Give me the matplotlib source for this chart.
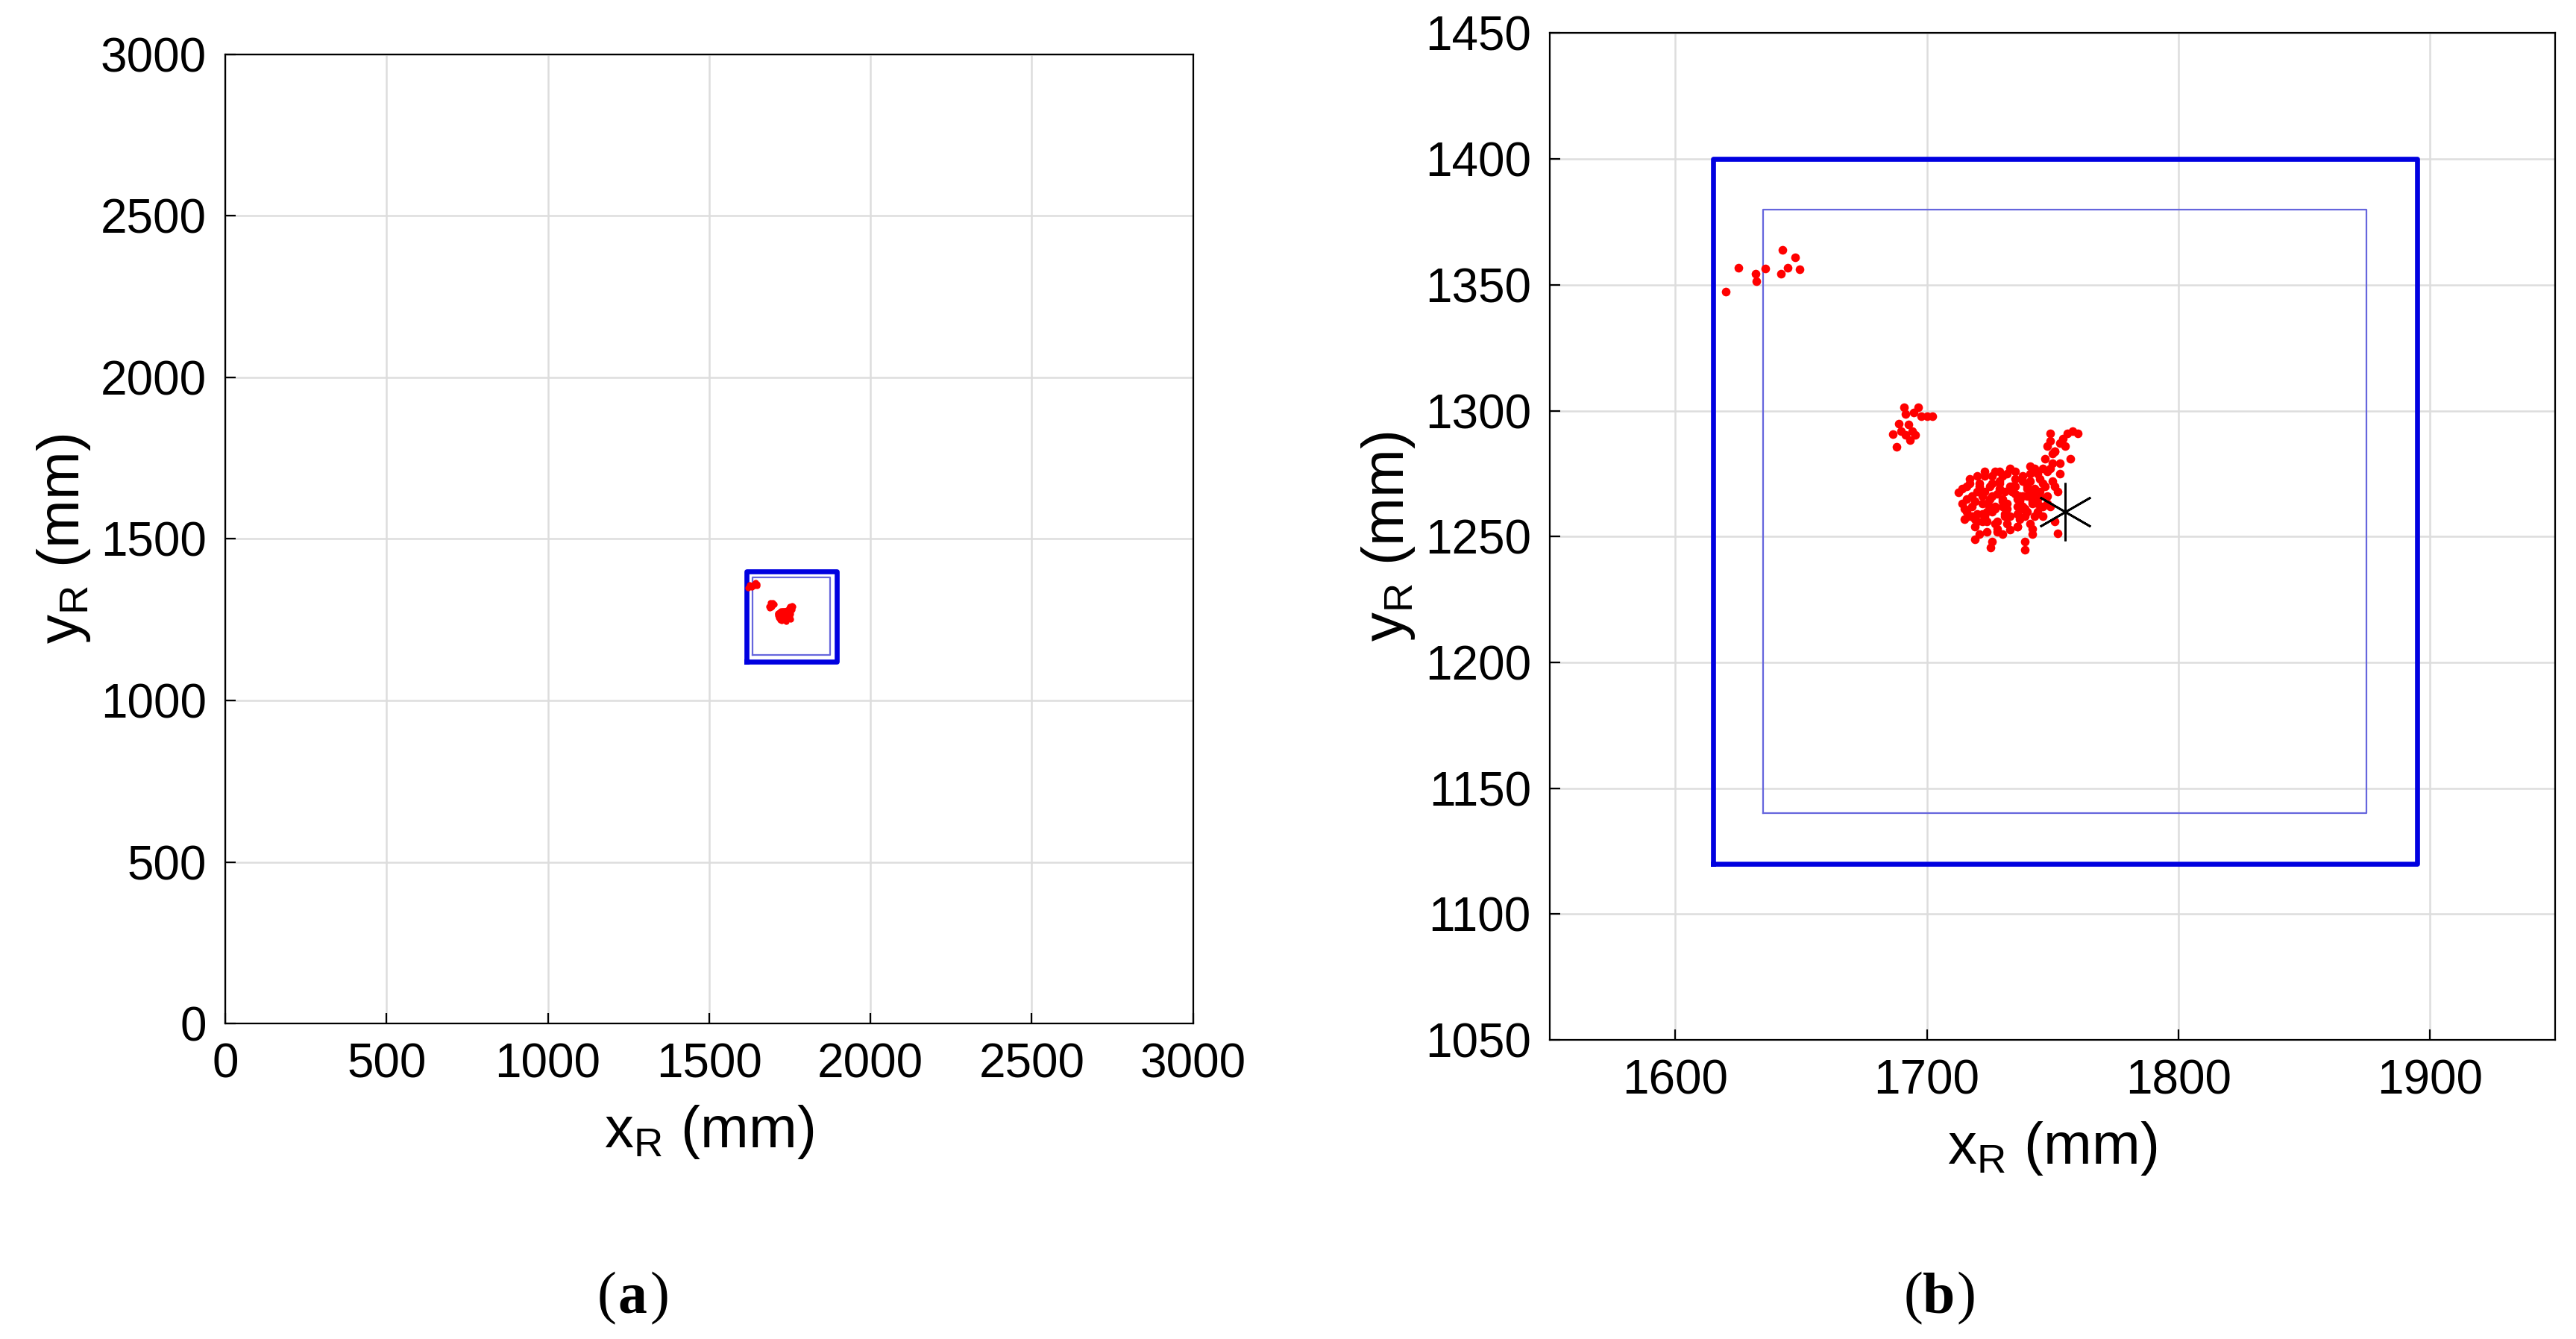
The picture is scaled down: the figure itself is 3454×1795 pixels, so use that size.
import matplotlib.pyplot as plt

plt.rcParams['font.family'] = ['Liberation Sans', 'DejaVu Sans']

# outer (thick) and inner (thin) boundary boxes, mm
outer_x = [1615, 1895, 1895, 1615, 1615]
outer_y = [1120, 1120, 1400, 1400, 1120]
inner_x = [1635, 1875, 1875, 1635, 1635]
inner_y = [1140, 1140, 1380, 1380, 1140]

# target position
star_x, star_y = 1755.0, 1260.0

pts_x = [
    1620.1, 1625.2, 1632.0, 1632.3, 1635.9, 1642.0, 1642.7, 1644.8, 1647.5, 1649.3,
    1690.9, 1691.5, 1694.9, 1696.6, 1697.7, 1700.0, 1702.3, 1689.0, 1692.6, 1686.4,
    1689.8, 1691.5, 1694.3, 1695.5, 1693.2, 1687.9,
    1712.5, 1714, 1716, 1718, 1716, 1715, 1717, 1719, 1720, 1722, 1721, 1719, 1718,
    1723, 1725, 1724, 1726, 1727, 1728, 1725.5, 1726, 1727, 1729, 1730, 1731, 1732,
    1730, 1733, 1734, 1735, 1736, 1737, 1738, 1733.1, 1736, 1738, 1739.1, 1739, 1740,
    1741, 1742, 1743, 1744, 1745, 1746, 1741, 1742, 1744, 1746, 1747, 1748, 1747,
    1748, 1749, 1750, 1749, 1751, 1748, 1750, 1752, 1749, 1751, 1753, 1752.2, 1750,
    1754, 1756, 1758, 1760, 1755, 1757, 1753, 1751, 1729, 1731, 1721, 1723, 1735,
    1714, 1716, 1718, 1720, 1722, 1724, 1726, 1728, 1730, 1732, 1734, 1736, 1738,
    1740, 1742, 1744, 1715, 1717, 1719, 1721, 1723, 1725, 1727, 1729, 1731, 1733,
    1735, 1737, 1739, 1741, 1743, 1745, 1720, 1722, 1724, 1726, 1728, 1730, 1732,
    1734, 1736, 1738, 1740, 1742, 1744, 1746, 1724, 1727, 1730, 1733, 1736, 1739,
    1742, 1745, 1717, 1720, 1723, 1726, 1729, 1732, 1735, 1738, 1741, 1744, 1719,
    1722, 1725, 1728, 1731, 1734, 1737, 1740, 1743, 1746, 1749, 1751, 1753, 1748,
]
pts_y = [
    1347.2, 1356.9, 1354.5, 1351.5, 1356.6, 1354.4, 1363.8, 1356.9, 1360.8, 1356.3,
    1301.2, 1298.7, 1299.2, 1301.2, 1297.7, 1297.7, 1297.7, 1294.8, 1294.5, 1290.8,
    1291.8, 1290.3, 1291.8, 1290.3, 1288.3, 1285.6,
    1267.5, 1263, 1270, 1266, 1260, 1257, 1273, 1254, 1268, 1263, 1251, 1249, 1258,
    1274, 1270, 1256, 1266, 1261, 1252, 1245.7, 1248, 1276, 1271, 1265, 1259, 1255,
    1262, 1277, 1268, 1273, 1262, 1257, 1266, 1252.7, 1254, 1261, 1244.8, 1248, 1270,
    1275, 1264, 1258, 1268, 1273, 1262, 1255, 1253, 1265, 1258, 1270, 1276, 1281,
    1286, 1291, 1279, 1288, 1284, 1266, 1272, 1268, 1262, 1256, 1275, 1251.2, 1283,
    1289, 1291, 1292, 1291, 1286, 1281, 1279, 1270, 1269, 1262, 1270, 1258, 1270,
    1269, 1265, 1262, 1259, 1266, 1263, 1260, 1267, 1264, 1261, 1268, 1265, 1262,
    1266, 1263, 1260, 1261, 1258, 1264, 1271, 1268, 1265, 1262, 1272, 1258, 1270,
    1267, 1264, 1261, 1272, 1269, 1266, 1256, 1259, 1260, 1271, 1256, 1274, 1263,
    1270, 1259, 1272, 1260, 1267, 1263, 1271, 1252, 1255, 1251, 1258, 1254, 1258,
    1251, 1268, 1271, 1274, 1276, 1274, 1276, 1275, 1276, 1274, 1278, 1275, 1257,
    1256, 1262, 1253, 1268, 1270, 1266, 1269, 1277, 1277, 1277, 1284, 1287, 1263,
]

fig = plt.figure(figsize=(17.275, 8.975), dpi=200)
ax_a = fig.add_axes([0.0874, 0.2356, 0.3756, 0.724])
ax_b = fig.add_axes([0.6014, 0.2233, 0.3903, 0.752])

for ax, ms in [(ax_a, 3.0), (ax_b, 4.2)]:
    ax.grid(True, color='#dddddd', linewidth=0.9)
    ax.set_axisbelow(True)
    ax.plot(outer_x, outer_y, color='#0000e0', linewidth=2.4)
    ax.plot(inner_x, inner_y, color='#6666dd', linewidth=0.8)
    ax.plot(pts_x, pts_y, 'o', color='red', markersize=ms, markeredgewidth=0)
    ax.tick_params(direction='in', length=5, labelsize=23, width=0.8, pad=9)
    ax.set_xlabel('x$_\\mathregular{R}$ (mm)', fontsize=28, labelpad=8)
    ax.set_ylabel('y$_\\mathregular{R}$ (mm)', fontsize=28)
    for s in ax.spines.values():
        s.set_linewidth(0.8)

ax_b.plot(star_x, star_y, marker=(6, 2, 0), color='black', markersize=28,
          markeredgewidth=1.0)

ax_a.set_xlim(0, 3000)
ax_a.set_ylim(0, 3000)
ax_a.set_xticks(range(0, 3001, 500))
ax_a.set_yticks(range(0, 3001, 500))

ax_b.set_xlim(1550, 1950)
ax_b.set_ylim(1050, 1450)
ax_b.set_xticks(range(1600, 1901, 100))
ax_b.set_yticks(range(1050, 1451, 50))

serif = ['Liberation Serif', 'DejaVu Serif']
for cx, letter in [(0.2455, 'a'), (0.7525, 'b')]:
    fig.text(cx - 0.0062, 0.02, '(', fontsize=28, ha='right', family=serif)
    fig.text(cx, 0.02, letter, fontsize=28, fontweight='bold', ha='center', family=serif)
    fig.text(cx + 0.0068, 0.02, ')', fontsize=28, ha='left', family=serif)

fig.savefig('out.png')
